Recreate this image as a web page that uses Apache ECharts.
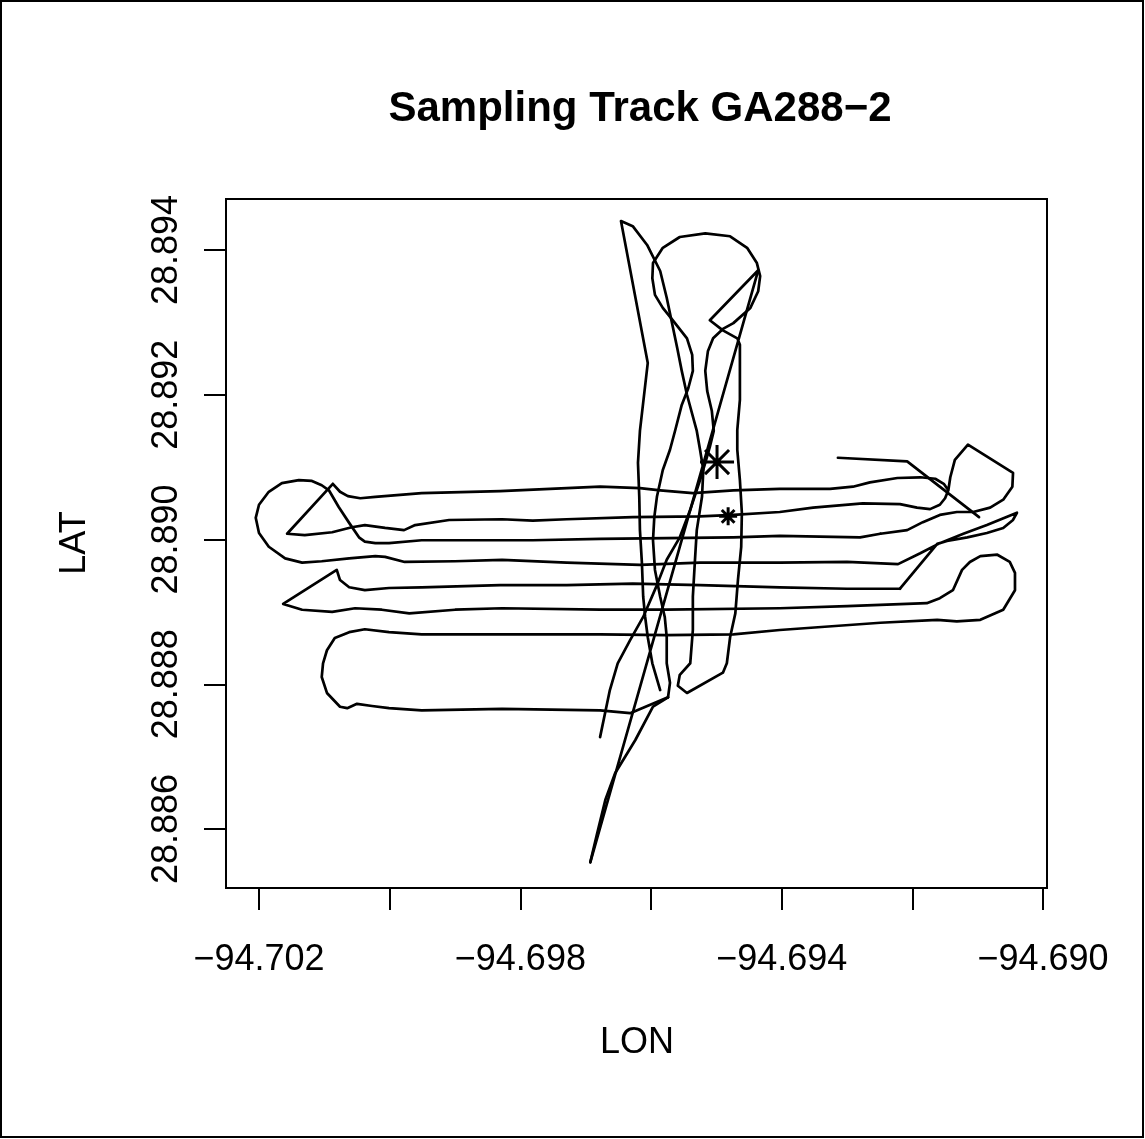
<!DOCTYPE html>
<html><head><meta charset="utf-8">
<script src="https://cdn.jsdelivr.net/npm/echarts@6/dist/echarts.min.js"></script>
<style>html,body{margin:0;padding:0;background:#fff}#c{width:1145px;height:1139px}</style>
</head><body><div id="c"></div>
<script>
// Axis ticks and labels
const xTicks = [-94.702, -94.700, -94.698, -94.696, -94.694, -94.692, -94.690];
const xLabels = [-94.702, -94.698, -94.694, -94.690];
const yTicks = [28.886, 28.888, 28.890, 28.892, 28.894];

// Track pieces [LON, LAT]
const trackStart = [[-94.69314, 28.89113], [-94.69208, 28.89108], [-94.69098, 28.89031]];

const transectsNorth = [
[-94.69145,28.89068],[-94.69152,28.89077],[-94.69165,28.89084],[-94.69188,28.89086],[-94.69223,28.89085],
[-94.69265,28.89079],[-94.69291,28.89073],[-94.69326,28.89070],[-94.69403,28.89070],[-94.69474,28.89068],
[-94.69536,28.89064],[-94.69586,28.89068],[-94.69617,28.89071],[-94.69678,28.89073],[-94.69729,28.89071],
[-94.69831,28.89067],[-94.69951,28.89064],[-94.70022,28.89059],[-94.70045,28.89057],[-94.70064,28.89060],
[-94.70076,28.89066],[-94.70087,28.89077],[-94.70157,28.89008],[-94.70130,28.89006],[-94.70088,28.89010],
[-94.70058,28.89017],[-94.70038,28.89020],[-94.70007,28.89016],[-94.69978,28.89013],[-94.69961,28.89020],
[-94.69909,28.89027],[-94.69828,28.89028],[-94.69781,28.89026],[-94.69729,28.89028],[-94.69628,28.89031],
[-94.69525,28.89032],[-94.69474,28.89034],[-94.69403,28.89038],[-94.69352,28.89044],[-94.69276,28.89050],
[-94.69219,28.89049],[-94.69193,28.89044],[-94.69173,28.89042],[-94.69158,28.89048],[-94.69150,28.89057],
[-94.69145,28.89068],[-94.69142,28.89086],[-94.69135,28.89110],[-94.69115,28.89131],[-94.69046,28.89092],
[-94.69047,28.89073],[-94.69061,28.89055],[-94.69081,28.89044],[-94.69107,28.89038],[-94.69132,28.89038],
[-94.69158,28.89034],[-94.69184,28.89024],[-94.69208,28.89013],[-94.69249,28.89008]
];

const transectsMiddle = [
[-94.69249,28.89008],[-94.69280,28.89003],[-94.69403,28.89005],[-94.69474,28.89003],[-94.69576,28.89002],
[-94.69678,28.89001],[-94.69781,28.88999],[-94.69900,28.88999],[-94.69951,28.88999],[-94.70001,28.88995],
[-94.70022,28.88995],[-94.70038,28.88997],[-94.70047,28.89003],[-94.70062,28.89023],[-94.70078,28.89045],
[-94.70093,28.89068],[-94.70104,28.89075],[-94.70119,28.89081],[-94.70139,28.89082],[-94.70165,28.89078],
[-94.70185,28.89066],[-94.70200,28.89048],[-94.70205,28.89030],[-94.70200,28.89009],[-94.70185,28.88990],
[-94.70160,28.88974],[-94.70134,28.88968],[-94.70104,28.88970],[-94.70062,28.88974],[-94.70022,28.88977],
[-94.70007,28.88976],[-94.69977,28.88969],[-94.69900,28.88970],[-94.69828,28.88972],[-94.69729,28.88968],
[-94.69617,28.88965],[-94.69525,28.88968],[-94.69403,28.88968],[-94.69300,28.88969],[-94.69222,28.88966],
[-94.69188,28.88981],[-94.69158,28.88995],[-94.69122,28.89008],[-94.69086,28.89020],[-94.69040,28.89037],
[-94.69046,28.89027],[-94.69061,28.89016],[-94.69086,28.89009],[-94.69116,28.89003],[-94.69147,28.88998],
[-94.69162,28.88994],[-94.69219,28.88932]
];

const transectsSouth = [
[-94.69219,28.88932],[-94.69300,28.88932],[-94.69403,28.88934],[-94.69525,28.88937],[-94.69628,28.88939],
[-94.69729,28.88937],[-94.69831,28.88937],[-94.69951,28.88934],[-94.70001,28.88933],[-94.70038,28.88930],
[-94.70062,28.88934],[-94.70076,28.88944],[-94.70081,28.88958],[-94.70163,28.88911],[-94.70134,28.88903],
[-94.70088,28.88900],[-94.70053,28.88905],[-94.70012,28.88903],[-94.69970,28.88898],[-94.69900,28.88903],
[-94.69828,28.88905],[-94.69678,28.88903],[-94.69576,28.88903],[-94.69403,28.88905],[-94.69300,28.88908],
[-94.69178,28.88912],[-94.69158,28.88919],[-94.69138,28.88930],[-94.69124,28.88958],[-94.69112,28.88969],
[-94.69096,28.88977],[-94.69070,28.88979],[-94.69051,28.88969],[-94.69043,28.88954],[-94.69043,28.88930],
[-94.69061,28.88903],[-94.69096,28.88889],[-94.69132,28.88887],[-94.69162,28.88889],[-94.69249,28.88885],
[-94.69403,28.88875],[-94.69474,28.88869],[-94.69576,28.88868],[-94.69678,28.88869],[-94.69828,28.88869],
[-94.69951,28.88869],[-94.70001,28.88872],[-94.70038,28.88876],[-94.70062,28.88872],[-94.70084,28.88864],
[-94.70096,28.88847],[-94.70102,28.88829],[-94.70104,28.88810],[-94.70096,28.88788],[-94.70076,28.88769],
[-94.70065,28.88767],[-94.70050,28.88773],[-94.70027,28.88770],[-94.70001,28.88767],[-94.69951,28.88764],
[-94.69828,28.88766],[-94.69678,28.88764],[-94.69632,28.88760],[-94.69574,28.88782]
];

const northLoop = [
[-94.69574,28.88782],[-94.69571,28.88802],[-94.69576,28.88829],[-94.69576,28.88865],[-94.69579,28.88893],
[-94.69586,28.88921],[-94.69594,28.88958],[-94.69597,28.88999],[-94.69595,28.89031],[-94.69591,28.89059],
[-94.69582,28.89096],[-94.69571,28.89124],[-94.69563,28.89151],[-94.69553,28.89186],[-94.69543,28.89209],
[-94.69536,28.89233],[-94.69537,28.89255],[-94.69545,28.89278],[-94.69566,28.89302],[-94.69582,28.89320],
[-94.69594,28.89338],[-94.69598,28.89361],[-94.69597,28.89382],[-94.69582,28.89403],[-94.69556,28.89418],
[-94.69517,28.89423],[-94.69479,28.89419],[-94.69453,28.89403],[-94.69438,28.89382],[-94.69433,28.89364],
[-94.69436,28.89343],[-94.69448,28.89320],[-94.69474,28.89299],[-94.69490,28.89291],[-94.69505,28.89278],
[-94.69513,28.89260],[-94.69517,28.89233],[-94.69514,28.89205],[-94.69507,28.89178],[-94.69504,28.89150],
[-94.69510,28.89128],[-94.69517,28.89106],[-94.69525,28.89082],[-94.69540,28.89041],[-94.69556,28.89003],
[-94.69576,28.88972],[-94.69591,28.88937],[-94.69612,28.88893],[-94.69632,28.88861],[-94.69651,28.88829],
[-94.69663,28.88792],[-94.69678,28.88727]
];

const northSouthRuns = [
[-94.69693,28.88554],[-94.69436,28.89372],[-94.69510,28.89303],[-94.69490,28.89289],[-94.69468,28.89278],
[-94.69464,28.89269],[-94.69464,28.89193],[-94.69468,28.89151],[-94.69468,28.89124],[-94.69464,28.89082],
[-94.69461,28.89037],[-94.69462,28.88990],[-94.69467,28.88944],[-94.69471,28.88898],[-94.69479,28.88865],
[-94.69484,28.88829],[-94.69490,28.88816],[-94.69545,28.88788],[-94.69559,28.88798],[-94.69556,28.88813],
[-94.69540,28.88829],[-94.69536,28.88875],[-94.69536,28.88921],[-94.69533,28.88968],[-94.69530,28.89013],
[-94.69522,28.89059],[-94.69520,28.89096],[-94.69525,28.89124],[-94.69530,28.89150],[-94.69545,28.89200],
[-94.69553,28.89233],[-94.69560,28.89265],[-94.69576,28.89334],[-94.69586,28.89371],[-94.69606,28.89407],
[-94.69628,28.89433],[-94.69646,28.89440],[-94.69605,28.89244],[-94.69617,28.89150],[-94.69620,28.89106],
[-94.69618,28.89059],[-94.69617,28.89013],[-94.69614,28.88968],[-94.69612,28.88921],[-94.69609,28.88893],
[-94.69605,28.88865],[-94.69598,28.88829],[-94.69586,28.88792]
];

const southLeg = [
[-94.69574,28.88782],[-94.69597,28.88769],[-94.69624,28.88723],[-94.69655,28.88677],[-94.69670,28.88640],
[-94.69683,28.88592],[-94.69693,28.88554]
];

const stationBig = [[-94.69499, 28.89107]];
const stationSmall = [[-94.69482, 28.89032]];

const pieces = [trackStart, transectsNorth, transectsMiddle, transectsSouth, northLoop, northSouthRuns, southLeg];

const FONT = '"Liberation Sans", Arial, Helvetica, sans-serif';
const fmt = v => (Math.round(v * 1000) / 1000).toFixed(3).replace('-', '\u2212');
const asterisk = 'path://M0,-10L0,10M-10,0L10,0M-7.07,-7.07L7.07,7.07M-7.07,7.07L7.07,-7.07';

const series = pieces.map(p => ({
  type: 'line', data: p, showSymbol: false, symbol: 'none', smooth: false,
  lineStyle: { color: '#000', width: 2.7, join: 'round', cap: 'round' }, silent: true, z: 3
}));
series.push({
  type: 'scatter', data: stationBig, symbol: asterisk, symbolSize: 34,
  itemStyle: { color: 'none', borderColor: '#000', borderWidth: 3, opacity: 1 }, z: 4, silent: true
});
series.push({
  type: 'scatter', data: stationSmall, symbol: asterisk, symbolSize: 18,
  itemStyle: { color: 'none', borderColor: '#000', borderWidth: 3, opacity: 1 }, z: 4, silent: true
});

const chart = echarts.init(document.getElementById('c'), null, { renderer: 'canvas' });
chart.setOption({
  animation: false,
  backgroundColor: '#fff',
  grid: { left: 226, right: 98, top: 199, bottom: 251, show: true, borderColor: '#000', borderWidth: 2, backgroundColor: 'transparent' },
  xAxis: {
    type: 'value', min: -94.702505, max: -94.68994,
    axisLine: { show: false }, splitLine: { show: false },
    axisTick: { show: true, length: 22, lineStyle: { color: '#000', width: 2 }, customValues: xTicks },
    axisLabel: { customValues: xLabels, formatter: fmt, color: '#000', fontSize: 36, fontFamily: FONT, margin: 54 }
  },
  yAxis: {
    type: 'value', min: 28.885185, max: 28.894705,
    axisLine: { show: false }, splitLine: { show: false },
    axisTick: { show: true, length: 22, lineStyle: { color: '#000', width: 2 }, customValues: yTicks },
    axisLabel: { customValues: yTicks, formatter: fmt, color: '#000', fontSize: 36, fontFamily: FONT, margin: 41, rotate: 90 }
  },
  graphic: [
    { type: 'rect', shape: { x: 1, y: 1, width: 1142, height: 1136 }, style: { fill: 'none', stroke: '#000', lineWidth: 2 }, z: 10 },
    { type: 'text', x: 640, y: 109, style: { text: 'Sampling Track GA288\u22122', font: 'bold 42px ' + FONT, fill: '#000', textAlign: 'center', textVerticalAlign: 'middle' } },
    { type: 'text', x: 637, y: 1043, style: { text: 'LON', font: '36px ' + FONT, fill: '#000', textAlign: 'center', textVerticalAlign: 'middle' } },
    { type: 'text', x: 75, y: 543, rotation: Math.PI / 2, style: { text: 'LAT', font: '36px ' + FONT, fill: '#000', textAlign: 'center', textVerticalAlign: 'middle' } }
  ],
  series: series
});
</script></body></html>
